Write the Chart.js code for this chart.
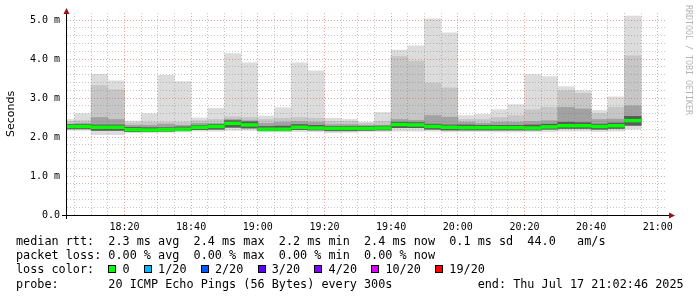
<!DOCTYPE html>
<html><head><meta charset="utf-8">
<script src="https://cdn.jsdelivr.net/npm/chart.js@4.4.0/dist/chart.umd.min.js"></script>
<style>
html,body{margin:0;padding:0;background:#fff;}
#wrap{position:relative;width:697px;height:297px;overflow:hidden;background:#fff;}
canvas{position:absolute;left:0;top:0;}
.legend{position:absolute;left:16px;top:234px;font-family:"DejaVu Sans Mono",monospace;font-size:11.8px;line-height:14.2px;white-space:pre;color:#000;}
.sq{display:inline-block;width:8px;height:8px;box-sizing:border-box;border:1px solid #000;margin-right:calc(1ch - 8px);vertical-align:baseline;}
.wm{position:absolute;left:683px;top:5px;writing-mode:vertical-rl;font-family:"DejaVu Sans Mono",monospace;font-size:8.3px;line-height:11px;color:#b4b4b4;white-space:nowrap;}
</style></head>
<body><div id="wrap"><canvas id="c" width="697" height="297"></canvas>
<div class="wm">RRDTOOL / TOBI OETIKER</div>
<div class="legend">median rtt:  2.3 ms avg  2.4 ms max  2.2 ms min  2.4 ms now  0.1 ms sd  44.0   am/s
packet loss: 0.00 % avg  0.00 % max  0.00 % min  0.00 % now
loss color:  <span class="sq" style="background:#00ff00"></span> 0  <span class="sq" style="background:#00b8ff"></span> 1/20  <span class="sq" style="background:#0059ff"></span> 2/20  <span class="sq" style="background:#5e00ff"></span> 3/20  <span class="sq" style="background:#7e00ff"></span> 4/20  <span class="sq" style="background:#dd00ff"></span> 10/20  <span class="sq" style="background:#ff0000"></span> 19/20
probe:       20 ICMP Echo Pings (56 Bytes) every 300s            end: Thu Jul 17 21:02:46 2025</div>
</div>
<script>
// interval start times (5-minute steps)
const intervalStarts = ["18:00","18:05","18:10","18:15","18:20","18:25","18:30","18:35","18:40","18:45",
  "18:50","18:55","19:00","19:05","19:10","19:15","19:20","19:25","19:30","19:35",
  "19:40","19:45","19:50","19:55","20:00","20:05","20:10","20:15","20:20","20:25",
  "20:30","20:35","20:40","20:45","20:50"];
// RTT smoke levels (ms)
const maxV  = [2.45,2.60,3.61,3.44,2.41,2.60,3.58,3.42,2.49,2.74,4.14,3.90,2.54,2.75,3.90,3.70,2.48,2.45,2.38,2.63,4.23,4.34,5.03,4.67,2.55,2.58,2.70,2.83,3.60,3.55,3.29,3.19,2.68,3.03,5.10];
const upV   = [2.40,2.42,3.32,3.21,2.36,2.38,2.38,2.38,2.42,2.45,2.52,2.50,2.45,2.48,2.50,2.48,2.40,2.40,2.35,2.40,4.06,3.95,3.38,3.26,2.45,2.45,2.50,2.55,2.70,2.76,3.19,3.12,2.60,2.76,4.08];
const midV  = [2.33,2.35,2.50,2.45,2.30,2.30,2.33,2.30,2.35,2.35,2.45,2.42,2.35,2.38,2.40,2.38,2.32,2.32,2.30,2.30,2.45,2.43,2.55,2.51,2.38,2.35,2.38,2.38,2.40,2.42,2.76,2.72,2.45,2.46,2.80];
const coreV = [2.32,2.32,2.31,2.31,2.25,2.24,2.24,2.26,2.30,2.32,2.42,2.39,2.27,2.28,2.32,2.30,2.27,2.27,2.27,2.28,2.38,2.37,2.33,2.31,2.31,2.30,2.30,2.30,2.31,2.33,2.38,2.37,2.33,2.36,2.53];
const medV  = [2.27,2.27,2.25,2.25,2.19,2.18,2.19,2.20,2.25,2.27,2.35,2.31,2.20,2.20,2.25,2.23,2.22,2.22,2.22,2.23,2.32,2.31,2.27,2.25,2.24,2.24,2.24,2.24,2.23,2.26,2.29,2.29,2.27,2.29,2.42];
const lowV  = [2.21,2.21,2.17,2.17,2.14,2.14,2.15,2.16,2.19,2.20,2.25,2.23,2.16,2.16,2.19,2.18,2.16,2.16,2.17,2.18,2.24,2.24,2.20,2.18,2.18,2.18,2.18,2.18,2.18,2.20,2.22,2.22,2.20,2.22,2.30];
const minV  = [2.17,2.17,2.06,2.06,2.11,2.11,2.12,2.13,2.15,2.15,2.17,2.17,2.14,2.14,2.14,2.14,2.11,2.12,2.14,2.14,2.15,2.15,2.15,2.13,2.14,2.14,2.13,2.13,2.14,2.14,2.15,2.15,2.14,2.15,2.20];
// axis labels
const xTickLabels = ["18:20","18:40","19:00","19:20","19:40","20:00","20:20","20:40","21:00"];
const yTickLabels = ["0.0","1.0 m","2.0 m","3.0 m","4.0 m","5.0 m"];
const graphStart = "18:02:46", graphEnd = "21:02:46";

function toMin(s){const p=s.split(':').map(Number);return p[0]*60+p[1]+(p[2]||0)/60;}
const xs = intervalStarts.map(toMin);
const xTickMin = xTickLabels.map(toMin);
const STEP = 5, MEDIAN_HALF = 0.036;

function band(lo, hi, color, order){
  return {type:'bar', order, backgroundColor:color, borderWidth:0, grouped:false,
    barPercentage:1, categoryPercentage:1,
    data: xs.map((s,i)=>({x:s+STEP/2, y:[lo[i], hi[i]]}))};
}
const datasets = [
  band(minV, maxV, '#dcdcdc', 5),
  band(lowV, upV, '#c6c6c6', 4),
  band(lowV, midV, '#a2a2a2', 3),
  band(lowV, coreV, '#5a5a5a', 2),
  {type:'bar', order:0, backgroundColor:'#00ff00', borderWidth:0, grouped:false, barPercentage:1, categoryPercentage:1,
   data: xs.map((s,i)=>({x:s+STEP/2, y:[medV[i]-MEDIAN_HALF, medV[i]+MEDIAN_HALF]}))}
];

const GRAY='rgba(120,120,120,0.42)', RED='rgba(215,60,60,0.48)';
const axesPlugin = {id:'axes', afterDraw(chart){
  const ctx=chart.ctx, a=chart.chartArea;
  ctx.save();
  ctx.strokeStyle='#000'; ctx.lineWidth=1;
  ctx.beginPath(); ctx.moveTo(62, a.bottom+0.5); ctx.lineTo(a.right+3, a.bottom+0.5); ctx.stroke();
  ctx.beginPath(); ctx.moveTo(a.left-0.5, a.bottom+4); ctx.lineTo(a.left-0.5, a.top-2); ctx.stroke();
  ctx.fillStyle='#991111';
  ctx.beginPath(); ctx.moveTo(a.right+2, a.bottom-2.5); ctx.lineTo(a.right+8, a.bottom+0.5); ctx.lineTo(a.right+2, a.bottom+3.5); ctx.closePath(); ctx.fill();
  ctx.beginPath(); ctx.moveTo(a.left-3.5, a.top+1); ctx.lineTo(a.left-0.5, a.top-5); ctx.lineTo(a.left+2.5, a.top+1); ctx.closePath(); ctx.fill();
  ctx.restore();
}};

Chart.defaults.font.family = '"DejaVu Sans Mono", monospace';
new Chart(document.getElementById('c'), {
  type:'bar',
  data:{datasets},
  plugins:[axesPlugin],
  options:{
    responsive:false, animation:false, devicePixelRatio:1,
    layout:{padding:{left:0, right:30, top:12, bottom:52}},
    plugins:{legend:{display:false}, tooltip:{enabled:false}},
    scales:{
      x:{type:'linear', offset:false, min:toMin(graphStart), max:toMin(graphEnd),
        afterFit(s){s.height=30;},
        afterBuildTicks(s){const t=[];for(let v=1085; v<=1260; v+=STEP) t.push({value:v}); s.ticks=t;},
        grid:{offset:false, drawTicks:false, z:1, lineWidth:1,
          color:(c)=> (c.tick && xTickMin.indexOf(c.tick.value)>=0) ? RED : GRAY},
        border:{display:false, dash:[1,2]},
        ticks:{autoSkip:false, maxRotation:0, padding:6, color:'#000', font:{size:10},
          callback:(v)=>{const i=xTickMin.indexOf(v);return i>=0?xTickLabels[i]:'';}}
      },
      y:{type:'linear', min:0, max:5.18,
        afterFit(s){s.width=67;},
        afterBuildTicks(s){const t=[];for(let i=0;i<=25;i++) t.push({value:Math.round(i*20)/100}); s.ticks=t;},
        grid:{drawTicks:false, z:1, lineWidth:1,
          color:(c)=> (c.tick && Math.abs(c.tick.value-Math.round(c.tick.value))<1e-6) ? RED : GRAY},
        border:{display:false, dash:[1,2]},
        ticks:{autoSkip:false, padding:7, color:'#000', font:{size:10},
          callback:(v)=>{const r=Math.round(v);return Math.abs(v-r)<1e-6 && yTickLabels[r]!==undefined ? yTickLabels[r] : '';}},
        title:{display:true, text:'Seconds', color:'#000', font:{family:'"DejaVu Sans", sans-serif', size:11}, padding:{top:5,bottom:0}}
      }
    }
  }
});
</script>
</body></html>
